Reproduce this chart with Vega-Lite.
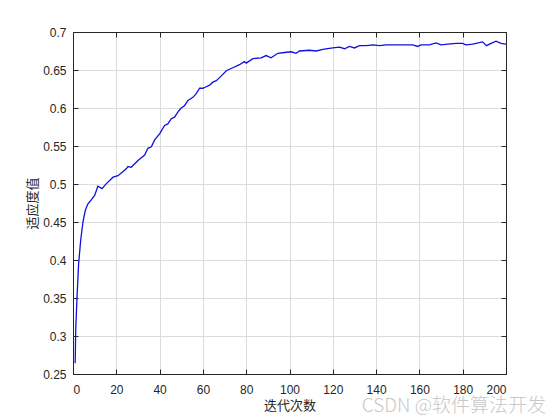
{
  "$schema": "https://vega.github.io/schema/vega-lite/v6.json",
  "width": 433,
  "height": 342,
  "autosize": {"type": "none"},
  "padding": {"left": 73, "top": 32, "right": 54, "bottom": 46},
  "background": "white",
  "config": {
    "view": {"stroke": "#262626", "strokeWidth": 1},
    "axis": {
      "domainColor": "#262626",
      "tickColor": "#262626",
      "gridColor": "#dcdcdc",
      "labelColor": "#262626",
      "labelFont": "Liberation Sans",
      "labelFontSize": 12,
      "titleFont": "Noto Sans CJK SC",
      "titleFontSize": 13,
      "titleFontWeight": "normal",
      "titleColor": "#262626",
      "tickSize": -5
    }
  },
  "title": {
    "text": "CSDN @软件算法开发",
    "orient": "bottom",
    "anchor": "end",
    "frame": "group",
    "font": "Noto Sans CJK SC",
    "fontSize": 19,
    "fontWeight": 300,
    "color": "#c8c8c8",
    "offset": -15,
    "dx": 40
  },
  "data": {
    "values": [
      {"x": 1, "y": 0.264},
      {"x": 1.25, "y": 0.3075},
      {"x": 1.85, "y": 0.351},
      {"x": 2.6, "y": 0.395},
      {"x": 3.55, "y": 0.426},
      {"x": 4.6, "y": 0.450},
      {"x": 5.7, "y": 0.4654},
      {"x": 6.9, "y": 0.474},
      {"x": 8.5, "y": 0.4795},
      {"x": 10, "y": 0.485},
      {"x": 11.5, "y": 0.497},
      {"x": 13.4, "y": 0.494},
      {"x": 15.4, "y": 0.5005},
      {"x": 18.5, "y": 0.509},
      {"x": 20.8, "y": 0.511},
      {"x": 24.6, "y": 0.520},
      {"x": 25.4, "y": 0.523},
      {"x": 26.9, "y": 0.522},
      {"x": 30, "y": 0.531},
      {"x": 33.1, "y": 0.538},
      {"x": 34.6, "y": 0.547},
      {"x": 36.2, "y": 0.549},
      {"x": 37.7, "y": 0.558},
      {"x": 40, "y": 0.566},
      {"x": 42.3, "y": 0.577},
      {"x": 43.8, "y": 0.579},
      {"x": 45.4, "y": 0.586},
      {"x": 46.9, "y": 0.588},
      {"x": 48.5, "y": 0.595},
      {"x": 50, "y": 0.600},
      {"x": 51.5, "y": 0.603},
      {"x": 53.1, "y": 0.610},
      {"x": 55.4, "y": 0.614},
      {"x": 56.9, "y": 0.619},
      {"x": 58.5, "y": 0.626},
      {"x": 60, "y": 0.626},
      {"x": 61.5, "y": 0.628},
      {"x": 63.1, "y": 0.630},
      {"x": 64.6, "y": 0.634},
      {"x": 66.2, "y": 0.636},
      {"x": 67.7, "y": 0.640},
      {"x": 70.8, "y": 0.649},
      {"x": 73.8, "y": 0.653},
      {"x": 76.9, "y": 0.657},
      {"x": 79.2, "y": 0.661},
      {"x": 80, "y": 0.659},
      {"x": 83.1, "y": 0.665},
      {"x": 86.9, "y": 0.666},
      {"x": 89.2, "y": 0.669},
      {"x": 91.5, "y": 0.666},
      {"x": 94.6, "y": 0.672},
      {"x": 97.7, "y": 0.673},
      {"x": 100.8, "y": 0.674},
      {"x": 103, "y": 0.672},
      {"x": 104.6, "y": 0.675},
      {"x": 109.2, "y": 0.676},
      {"x": 112.3, "y": 0.675},
      {"x": 115.4, "y": 0.677},
      {"x": 120, "y": 0.679},
      {"x": 123.1, "y": 0.680},
      {"x": 125.4, "y": 0.678},
      {"x": 127.7, "y": 0.681},
      {"x": 130, "y": 0.679},
      {"x": 132.3, "y": 0.682},
      {"x": 135.4, "y": 0.682},
      {"x": 138.5, "y": 0.683},
      {"x": 141.5, "y": 0.682},
      {"x": 144.6, "y": 0.683},
      {"x": 150.8, "y": 0.683},
      {"x": 156.9, "y": 0.683},
      {"x": 159.2, "y": 0.681},
      {"x": 160.8, "y": 0.683},
      {"x": 164.6, "y": 0.683},
      {"x": 167.7, "y": 0.6856},
      {"x": 170, "y": 0.683},
      {"x": 173.1, "y": 0.684},
      {"x": 176.9, "y": 0.685},
      {"x": 180, "y": 0.685},
      {"x": 181.5, "y": 0.683},
      {"x": 184.6, "y": 0.684},
      {"x": 189.2, "y": 0.687},
      {"x": 191, "y": 0.682},
      {"x": 193.1, "y": 0.685},
      {"x": 195.4, "y": 0.688},
      {"x": 197.7, "y": 0.685},
      {"x": 200, "y": 0.684}
    ]
  },
  "layer": [
    {
      "mark": {"type": "line", "color": "#1010e0", "strokeWidth": 1.3, "clip": true},
      "encoding": {
        "x": {
          "field": "x", "type": "quantitative",
          "scale": {"domain": [0, 200], "nice": false, "zero": false},
          "axis": {"title": "迭代次数", "values": [0, 20, 40, 60, 80, 100, 120, 140, 160, 180, 200], "labelPadding": 15, "titlePadding": 4, "grid": true}
        },
        "y": {
          "field": "y", "type": "quantitative",
          "scale": {"domain": [0.25, 0.7], "nice": false, "zero": false},
          "axis": {"title": "适应度值", "values": [0.25, 0.3, 0.35, 0.4, 0.45, 0.5, 0.55, 0.6, 0.65, 0.7], "format": ".2~f", "labelPadding": 12, "titlePadding": 3, "grid": true}
        }
      }
    },
    {
      "mark": {"type": "line", "opacity": 0},
      "encoding": {
        "x": {
          "field": "x", "type": "quantitative",
          "scale": {"domain": [0, 200], "nice": false, "zero": false},
          "axis": {"orient": "top", "title": null, "labels": false, "grid": false, "values": [0, 20, 40, 60, 80, 100, 120, 140, 160, 180, 200]}
        },
        "y": {
          "field": "y", "type": "quantitative",
          "scale": {"domain": [0.25, 0.7], "nice": false, "zero": false},
          "axis": {"orient": "right", "title": null, "labels": false, "grid": false, "values": [0.25, 0.3, 0.35, 0.4, 0.45, 0.5, 0.55, 0.6, 0.65, 0.7]}
        }
      }
    }
  ],
  "resolve": {"axis": {"x": "independent", "y": "independent"}}
}
